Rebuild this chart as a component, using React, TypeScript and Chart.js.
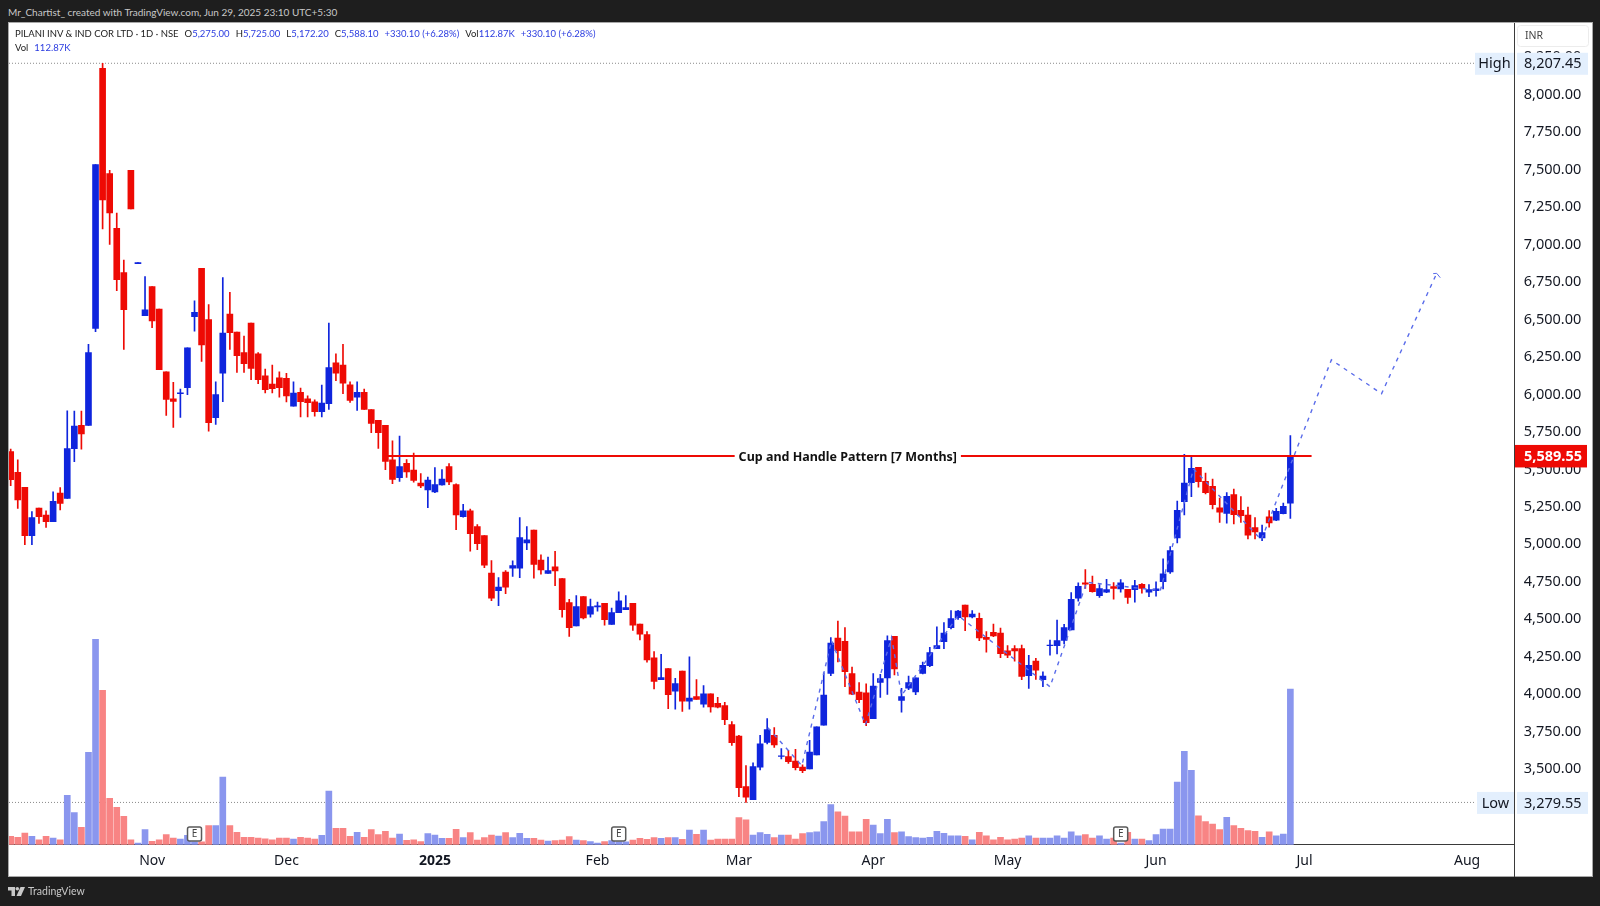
import { useEffect, useRef } from 'react'
import { Chart, registerables } from 'chart.js'

Chart.register(...registerables);

const candleOpen = [
  5618, 5480, 5380, 5058, 5242, 5196, 5151, 5342, 5307, 5638,
  5793, 5793, 6440, 8174, 7472, 7107, 6812, 7494, 6872, 6524,
  6718, 6569, 6151, 5971, 6004, 6044, 6518, 6841, 6498, 5844,
  6142, 6535, 6415, 6278, 6475, 6271, 6124, 6069, 6111, 6107,
  5922, 6013, 5971, 5951, 5884, 5938, 6211, 6195, 6064, 5982,
  6013, 5898, 5827, 5793, 5564, 5444, 5541, 5496, 5409, 5363,
  5349, 5396, 5518, 5398, 5185, 5223, 5118, 5058, 4809, 4692,
  4816, 4841, 4841, 5010, 5096, 4896, 4807, 4850, 4772, 4612,
  4456, 4652, 4534, 4583, 4607, 4467, 4545, 4565, 4607, 4469,
  4398, 4243, 4098, 4172, 4021, 4156, 3954, 3985, 3934, 4003,
  3941, 3925, 3798, 3722, 3385, 3298, 3514, 3680, 3727, 3587,
  3585, 3556, 3516, 3503, 3596, 3794, 4140, 4376, 4354, 4138,
  4016, 4011, 3838, 4080, 4109, 4387, 3960, 4042, 4016, 4140,
  4191, 4305, 4351, 4445, 4511, 4596, 4516, 4507, 4380, 4414,
  4409, 4291, 4305, 4305, 4125, 4222, 4098, 4325, 4325, 4360,
  4430, 4641, 4743, 4734, 4658, 4681, 4718, 4703, 4701, 4698,
  4734, 4681, 4692, 4752, 4816, 5043, 5285, 5412, 5514, 5421,
  5387, 5243, 5207, 5332, 5227, 5196, 5112, 5043, 5183, 5161,
  5205, 5275,
];

const candleClose = [
  5431, 5296, 5058, 5178, 5184, 5151, 5287, 5273, 5638, 5789,
  5736, 6278, 7532, 7296, 7209, 6765, 6564, 7236, 6878, 6564,
  6489, 6164, 5967, 5953, 6011, 6311, 6547, 6329, 5811, 5998,
  6409, 6411, 6258, 6204, 6173, 6098, 6031, 6038, 6044, 5989,
  6009, 5951, 5944, 5884, 5942, 6178, 6142, 6075, 5960, 6013,
  5900, 5807, 5744, 5553, 5433, 5518, 5483, 5427, 5389, 5429,
  5398, 5436, 5416, 5196, 5223, 5072, 5005, 4861, 4641, 4716,
  4714, 4858, 5045, 5030, 4867, 4830, 4825, 4823, 4565, 4445,
  4585, 4510, 4585, 4590, 4498, 4545, 4623, 4578, 4461, 4401,
  4230, 4087, 4112, 3998, 4072, 3954, 3976, 3967, 4003, 3916,
  3914, 3831, 3678, 3378, 3314, 3518, 3671, 3765, 3663, 3591,
  3551, 3511, 3491, 3616, 3783, 3996, 4342, 4291, 4151, 4002,
  3965, 3811, 4056, 4105, 4358, 4169, 3985, 4078, 4111, 4194,
  4278, 4325, 4409, 4505, 4556, 4516, 4536, 4376, 4367, 4389,
  4271, 4262, 4289, 4120, 4194, 4162, 4122, 4329, 4358, 4445,
  4634, 4721, 4734, 4685, 4705, 4698, 4707, 4743, 4647, 4725,
  4707, 4698, 4703, 4803, 4958, 5227, 5409, 5507, 5418, 5345,
  5265, 5214, 5321, 5198, 5192, 5061, 5083, 5078, 5143, 5221,
  5254, 5588.1,
];

const candleHigh = [
  5635, 5564, 5380, 5218, 5242, 5224, 5351, 5378, 5891, 5889,
  5889, 6333, 7532, 8207.45, 7494, 7209, 6896, 7494, 6878, 6785,
  6718, 6569, 6151, 6080, 6035, 6311, 6624, 6841, 6598, 6084,
  6778, 6680, 6415, 6389, 6475, 6278, 6169, 6195, 6151, 6140,
  6084, 6042, 5991, 5964, 6062, 6475, 6271, 6333, 6084, 6084,
  6035, 5898, 5827, 5793, 5691, 5722, 5565, 5609, 5472, 5449,
  5512, 5498, 5538, 5403, 5267, 5236, 5132, 5058, 4892, 4778,
  4825, 4890, 5178, 5118, 5096, 4930, 4916, 4954, 4772, 4634,
  4658, 4652, 4636, 4616, 4607, 4576, 4683, 4658, 4607, 4469,
  4418, 4285, 4267, 4172, 4107, 4156, 4250, 4098, 4058, 4003,
  3981, 3947, 3818, 3727, 3525, 3543, 3727, 3838, 3778, 3638,
  3627, 3634, 3531, 3694, 3783, 4143, 4378, 4489, 4445, 4182,
  4078, 4071, 4138, 4134, 4391, 4387, 4040, 4122, 4111, 4216,
  4314, 4451, 4478, 4558, 4560, 4596, 4558, 4542, 4418, 4469,
  4442, 4325, 4325, 4329, 4260, 4240, 4151, 4362, 4496, 4467,
  4678, 4743, 4832, 4789, 4732, 4767, 4745, 4765, 4701, 4761,
  4738, 4732, 4750, 4903, 4985, 5289, 5601, 5589, 5514, 5476,
  5436, 5309, 5345, 5369, 5318, 5249, 5178, 5129, 5225, 5241,
  5276, 5725,
];

const candleLow = [
  5391, 5240, 4998, 4998, 5140, 5113, 5151, 5229, 5307, 5551,
  5635, 5793, 6418, 7103, 7000, 6692, 6300, 7236, 6872, 6524,
  6444, 6164, 5860, 5780, 5847, 5998, 6422, 6220, 5755, 5800,
  5951, 6300, 6147, 6147, 6098, 6071, 6009, 6009, 5982, 5949,
  5922, 5849, 5849, 5855, 5849, 5900, 6091, 6004, 5947, 5893,
  5900, 5744, 5640, 5498, 5404, 5420, 5447, 5414, 5378, 5245,
  5345, 5394, 5398, 5098, 5181, 4954, 4965, 4845, 4625, 4592,
  4672, 4787, 4778, 4965, 4774, 4801, 4807, 4725, 4514, 4387,
  4456, 4503, 4514, 4554, 4461, 4467, 4545, 4565, 4427, 4363,
  4214, 4036, 4098, 3905, 3901, 3887, 3901, 3967, 3914, 3881,
  3910, 3798, 3660, 3318, 3279.55, 3298, 3496, 3669, 3647, 3569,
  3540, 3496, 3478, 3503, 3596, 3794, 4125, 4216, 4051, 3998,
  3945, 3791, 3838, 3980, 4000, 4129, 3882, 4031, 3998, 4136,
  4185, 4305, 4305, 4436, 4500, 4425, 4509, 4358, 4282, 4385,
  4245, 4245, 4222, 4098, 4040, 4100, 4051, 4262, 4269, 4336,
  4430, 4621, 4707, 4681, 4647, 4678, 4634, 4681, 4607, 4614,
  4674, 4652, 4654, 4703, 4807, 5010, 5196, 5318, 5381, 5336,
  5236, 5147, 5141, 5136, 5147, 5036, 5036, 5025, 5114, 5158,
  5203, 5172.2,
];

// thousands of shares
const volume = [
  6, 5.3, 8.5, 6, 3.6, 6, 4.8, 3.6, 35.8, 23.2,
  12.6, 67, 148.9, 111.9, 33.6, 27, 20.5, 3.6, 1.2, 10.9,
  2.4, 3.6, 7.3, 4.8, 4.1, 6.8, 2, 2, 13.8, 13.8,
  49, 13.8, 8.9, 5.3, 5.3, 4.8, 4.3, 3.6, 4.8, 4.8,
  4.1, 5.3, 4.8, 4.1, 6.8, 38.9, 11.8, 11.8, 6, 8.9,
  5.3, 10.9, 7.3, 9.7, 4.8, 7.7, 3.1, 3.6, 2.2, 8,
  7, 4.6, 4.6, 11.1, 5.1, 8.7, 3.4, 5.1, 7, 6.3,
  8.7, 5.1, 8.2, 4.6, 4.6, 3.4, 2.7, 2.9, 3.4, 5.8,
  3.4, 2.9, 2.2, 1.2, 2.2, 2.9, 2, 2, 3.4, 4.6,
  3.9, 5.1, 4.6, 5.1, 5.1, 3.9, 10.6, 7.5, 10.6, 3.4,
  4.1, 4.1, 4.1, 19.6, 18.1, 7, 8.7, 7.5, 5.1, 7,
  7, 4.1, 8, 8.7, 9.4, 16.7, 29, 23.9, 20.8, 9.4,
  9.4, 18.4, 14.3, 8, 18.4, 8.7, 9.4, 5.8, 5.1, 4.8,
  5.3, 9.7, 8.2, 6.5, 6.5, 6, 3.6, 8.9, 6.5, 3.6,
  5.3, 3.6, 4.1, 4.8, 6.5, 4.8, 4.8, 4.8, 6.5, 4.8,
  9.4, 6.5, 7.3, 4.8, 6.5, 4.1, 4.8, 1.2, 8.9, 4.1,
  4.1, 2.9, 7.3, 11.4, 11.4, 45.4, 67.7, 53.9, 21, 16.7,
  15, 10.9, 19.8, 13.8, 11.8, 10.2, 9.7, 5.3, 9.4, 6.5,
  7.7, 112.87,
];

const monthTicks = [20, 39, 60, 83, 103, 122, 141, 162, 183, 206];
const monthLabels = ['Nov', 'Dec', '2025', 'Feb', 'Mar', 'Apr', 'May', 'Jun', 'Jul', 'Aug'];
const priceTicks = [
  8250, 8000, 7750, 7500, 7250, 7000, 6750, 6500, 6250, 6000,
  5750, 5500, 5250, 5000, 4750, 4500, 4250, 4000, 3750, 3500,
];
const earningsBars = [26, 86, 157];

const highPrice = 8207.45;
const lowPrice = 3279.55;
const lastPrice = 5589.55;
const levelEndBar = 207;

// drawn sketch: bar index / price of each turn of the dashed projection
const pathBars = [107.1, 111.9, 116.1, 120.9, 124.6, 126, 134, 147, 152.2, 162.6, 167.3, 176.9, 186.8, 193.9, 201.7];
const pathPrices = [3778, 3525, 4358, 3798, 4380, 3992, 4525, 4051, 4747, 4692, 5503, 5031, 6230, 6005, 6807];
const arrowBars = [201.2, 201.7, 202.2];
const arrowPrices = [6805, 6807, 6778];

// pattern line, broken where the label sits
const patternBars = [52.66, 102.4, 118.4, 134.4, 184];
const patternPrices = [5589, 5589, null, 5589, 5589];
const patternLabel = 'Cup and Handle Pattern [7 Months]';

const FONT = '"Noto Sans", sans-serif';
const SMALL_FONT = 'Lato, sans-serif';
const BLUE = '#0f25dd';
const RED = '#ee0a04';
const VOL_BLUE = '#8a96ee';
const VOL_RED = '#f88484';
const AXIS_LINE = '#3a3a3a';
const PATH_BLUE = '#5a6cea';

function fmtPrice(v: number): string {
  return v.toLocaleString('en-US', { minimumFractionDigits: 2, maximumFractionDigits: 2 });
}

function priceTag(ctx: CanvasRenderingContext2D, x: number, y: number, w: number, h: number, bg: string) {
  ctx.fillStyle = bg;
  ctx.fillRect(x, y, w, h);
}

const overlays = {
  id: 'overlays',
  afterDraw(chart: Chart) {
    const { ctx, scales } = chart;
    const xs = scales.x;
    const ys = scales.y;
    ctx.save();

    // time axis divider runs on through the bottom strip
    ctx.strokeStyle = AXIS_LINE;
    ctx.lineWidth = 1;
    ctx.beginPath();
    ctx.moveTo(1514.5, 844);
    ctx.lineTo(1514.5, 877);
    ctx.stroke();

    // earnings markers
    earningsBars.forEach(b => {
      const x = xs.getPixelForValue(b);
      ctx.fillStyle = '#ffffff';
      ctx.strokeStyle = '#5a5a5a';
      ctx.lineWidth = 1.5;
      ctx.beginPath();
      ctx.roundRect(x - 7, 827, 14, 14, 2);
      ctx.fill();
      ctx.stroke();
      ctx.fillStyle = '#444444';
      ctx.font = `10px ${FONT}`;
      ctx.textAlign = 'center';
      ctx.textBaseline = 'middle';
      ctx.fillText('E', x, 834.5);
    });

    // pattern label
    ctx.fillStyle = '#111111';
    ctx.font = `bold 12.5px ${FONT}`;
    ctx.textAlign = 'center';
    ctx.textBaseline = 'middle';
    ctx.fillText(patternLabel, xs.getPixelForValue(patternBars[2]), ys.getPixelForValue(patternPrices[0] as number) + 1);

    // high / low tags
    const tags: [string, number, number, number][] = [
      ['High', highPrice, 1475, 39],
      ['Low', lowPrice, 1477, 37],
    ];
    tags.forEach(([name, price, left, w]) => {
      const y = ys.getPixelForValue(price);
      priceTag(ctx, left, y - 10.5, w, 22, '#e3effd');
      priceTag(ctx, 1517, y - 10.5, 71, 22, '#e3effd');
      ctx.fillStyle = '#131722';
      ctx.font = `14.5px ${FONT}`;
      ctx.textBaseline = 'middle';
      ctx.textAlign = 'center';
      ctx.fillText(name, left + w / 2, y + 1);
      ctx.textAlign = 'left';
      ctx.fillText(fmtPrice(price), 1524, y + 1);
    });

    // last price tag
    const lastY = ys.getPixelForValue(lastPrice);
    priceTag(ctx, 1515, lastY - 11, 72, 22.5, '#ee0a04');
    ctx.fillStyle = '#ffffff';
    ctx.font = `bold 14.5px ${FONT}`;
    ctx.textAlign = 'left';
    ctx.textBaseline = 'middle';
    ctx.fillText(fmtPrice(lastPrice), 1524, lastY + 1);

    // currency box
    ctx.fillStyle = '#ffffff';
    ctx.strokeStyle = '#ececec';
    ctx.lineWidth = 1;
    ctx.beginPath();
    ctx.roundRect(1517.5, 25.5, 71, 21, 3);
    ctx.fill();
    ctx.stroke();
    ctx.fillStyle = '#444444';
    ctx.font = `10.5px ${FONT}`;
    ctx.textAlign = 'left';
    ctx.fillText('INR', 1525, 36.5);

    ctx.restore();
  },
};

export default function App() {
  const canvasRef = useRef<HTMLCanvasElement>(null);

  useEffect(() => {
    if (!canvasRef.current) return;
    const bars = candleOpen.map((_, i) => i);
    const isUp = (i: number) => candleClose[i] >= candleOpen[i];
    const candleColors = bars.map(i => (isUp(i) ? BLUE : RED));

    const chart = new Chart(canvasRef.current, {
      type: 'bar',
      plugins: [overlays],
      data: {
        datasets: [
          {
            type: 'line',
            label: 'Pattern',
            data: patternBars.map((b, i) => ({ x: b, y: patternPrices[i] })),
            borderColor: '#ee0a04',
            borderWidth: 2,
            pointRadius: 0,
            spanGaps: false,
            order: 0,
          },
          {
            type: 'line',
            label: 'Path',
            data: pathBars.map((b, i) => ({ x: b, y: pathPrices[i] })),
            borderColor: PATH_BLUE,
            borderWidth: 1.4,
            borderDash: [4, 5],
            pointRadius: 0,
            order: 1,
          },
          {
            type: 'line',
            label: 'Arrow',
            data: arrowBars.map((b, i) => ({ x: b, y: arrowPrices[i] })),
            borderColor: PATH_BLUE,
            borderWidth: 1,
            pointRadius: 0,
            order: 1,
          },
          {
            label: 'Body',
            data: bars.map(i => ({ x: i, y: [candleOpen[i], candleClose[i]] })),
            backgroundColor: candleColors,
            barThickness: 6,
            grouped: false,
            order: 2,
          },
          {
            label: 'Wick',
            data: bars.map(i => ({ x: i, y: [candleLow[i], candleHigh[i]] })),
            backgroundColor: candleColors,
            barThickness: 1,
            grouped: false,
            order: 3,
          },
          {
            label: 'Volume',
            yAxisID: 'vol',
            data: bars.map(i => ({ x: i, y: volume[i] })),
            backgroundColor: bars.map(i => (isUp(i) ? VOL_BLUE : VOL_RED)),
            barThickness: 6,
            grouped: false,
            order: 4,
          },
          {
            type: 'line',
            label: 'High',
            data: [{ x: -0.24, y: highPrice }, { x: levelEndBar, y: highPrice }],
            borderColor: '#8a8a8a',
            borderWidth: 1,
            borderDash: [1, 2],
            pointRadius: 0,
            order: 5,
          },
          {
            type: 'line',
            label: 'Low',
            data: [{ x: -0.24, y: lowPrice }, { x: levelEndBar, y: lowPrice }],
            borderColor: '#8a8a8a',
            borderWidth: 1,
            borderDash: [1, 2],
            pointRadius: 0,
            order: 5,
          },
        ],
      } as any,
      options: {
        responsive: false,
        animation: false,
        devicePixelRatio: 1,
        events: [],
        layout: { padding: { left: 9, top: 23, right: 9, bottom: 29 } },
        plugins: { legend: { display: false }, tooltip: { enabled: false } },
        scales: {
          x: {
            type: 'linear',
            offset: false,
            min: -0.24,
            max: 212.73,
            afterBuildTicks: (axis: any) => { axis.ticks = monthTicks.map(v => ({ value: v })); },
            afterFit: (axis: any) => { axis.height = 32.3; },
            grid: { display: false, drawTicks: false },
            border: { display: true, color: AXIS_LINE },
            ticks: {
              autoSkip: false,
              maxRotation: 0,
              padding: 8,
              color: '#131722',
              font: (c: any) => ({ family: FONT, size: 14, weight: c.tick?.value === 60 ? 'bold' : 'normal' }),
              callback: (v: any) => monthLabels[monthTicks.indexOf(Number(v))] ?? '',
            },
          },
          y: {
            type: 'linear',
            position: 'right',
            min: 2997.7,
            max: 8476,
            afterBuildTicks: (axis: any) => { axis.ticks = priceTicks.map(v => ({ value: v })); },
            afterFit: (axis: any) => { axis.width = 76.3; },
            grid: { display: false, drawTicks: false },
            border: { display: true, color: AXIS_LINE },
            ticks: {
              autoSkip: false,
              padding: 9,
              color: '#131722',
              font: { family: FONT, size: 14.5 },
              callback: (v: any) => fmtPrice(Number(v)),
            },
          },
          vol: {
            type: 'linear',
            display: false,
            min: 0,
            max: 595.5,
          },
        },
      },
    });

    return () => chart.destroy();
  }, []);

  const blue = { color: '#2a3be0' };
  const legendStyle: React.CSSProperties = { position: 'absolute', left: 15, font: `9.5px ${SMALL_FONT}`, color: '#222', whiteSpace: 'nowrap' };

  return (
    <div style={{ position: 'fixed', inset: 0, background: '#1e1e1e', overflow: 'hidden' }}>
      <div style={{ position: 'absolute', left: 8, top: 6, font: `10px ${SMALL_FONT}`, color: '#c8c8c8', whiteSpace: 'nowrap' }}>
        Mr_Chartist_ created with TradingView.com, Jun 29, 2025 23:10 UTC+5:30
      </div>
      <div style={{ position: 'absolute', left: 8, top: 22, width: 1583, height: 853, background: '#fff', border: '1px solid #a8a8a8', boxSizing: 'content-box' }} />
      <canvas ref={canvasRef} width={1600} height={906} style={{ position: 'absolute', left: 0, top: 0 }} />
      <div style={{ ...legendStyle, top: 28 }}>
        PILANI INV &amp; IND COR LTD · 1D · NSE
        <span style={{ marginLeft: 6 }}>O<span style={blue}>5,275.00</span></span>
        <span style={{ marginLeft: 6 }}>H<span style={blue}>5,725.00</span></span>
        <span style={{ marginLeft: 6 }}>L<span style={blue}>5,172.20</span></span>
        <span style={{ marginLeft: 6 }}>C<span style={blue}>5,588.10</span></span>
        <span style={{ ...blue, marginLeft: 6 }}>+330.10 (+6.28%)</span>
        <span style={{ marginLeft: 6 }}>Vol<span style={blue}>112.87K</span></span>
        <span style={{ ...blue, marginLeft: 6 }}>+330.10 (+6.28%)</span>
      </div>
      <div style={{ ...legendStyle, top: 42 }}>
        Vol<span style={{ ...blue, marginLeft: 6 }}>112.87K</span>
      </div>
      <svg width="17" height="10" viewBox="0 0 17 10" style={{ position: 'absolute', left: 8, top: 887 }}>
        <path d="M0 0H7V9H3.5V3.5H0Z" fill="#c8c8c8" />
        <circle cx="9.3" cy="1.8" r="1.8" fill="#c8c8c8" />
        <path d="M12.5 0H17L13 9H8.5Z" fill="#c8c8c8" />
      </svg>
      <div style={{ position: 'absolute', left: 28, top: 885, font: `10.5px ${SMALL_FONT}`, color: '#c8c8c8' }}>TradingView</div>
    </div>
  );
}
